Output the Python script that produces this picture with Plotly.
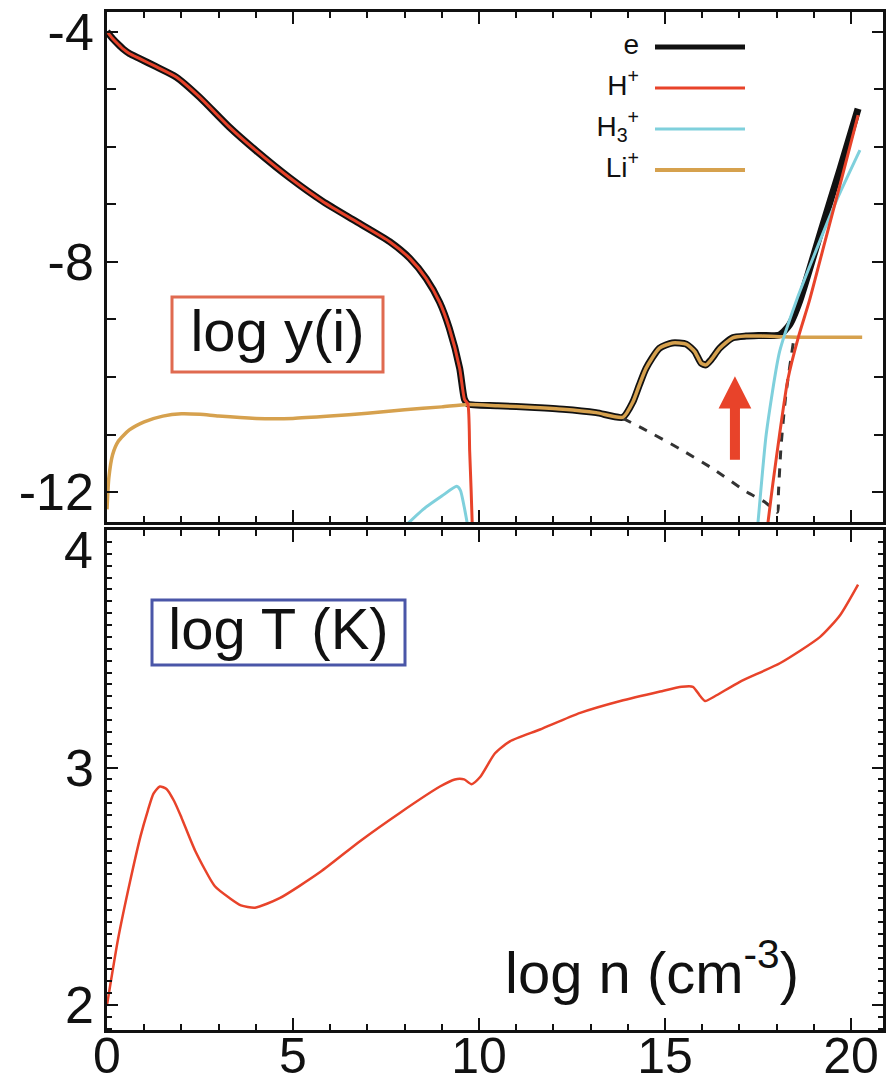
import plotly.graph_objects as go

# ---- ionisation fractions, log y(i) vs log n ----
E_X = [0, 0.15, 0.3, 0.43, 0.6, 0.88, 1.32, 1.86, 2.49, 3.29, 4.01, 4.91, 5.8, 6.7, 7.6,
       8.14, 8.58, 8.94, 9.2, 9.48, 9.61, 9.7, 10.5, 11.5, 12.26, 13.15, 13.87, 14.14,
       14.31, 14.49, 14.85, 15.2, 15.57, 15.8, 15.97, 16.1, 16.24, 16.47, 16.82, 17.18,
       17.6, 18.08, 18.35, 18.62, 19.2, 19.7, 20.19]
E_Y = [-4.0, -4.12, -4.22, -4.3, -4.38, -4.47, -4.61, -4.79, -5.14, -5.66, -6.07, -6.54,
       -6.95, -7.3, -7.65, -7.94, -8.29, -8.7, -9.15, -9.85, -10.39, -10.47, -10.5, -10.53,
       -10.56, -10.62, -10.7, -10.43, -10.14, -9.85, -9.5, -9.41, -9.43, -9.56, -9.76,
       -9.79, -9.7, -9.5, -9.32, -9.29, -9.28, -9.27, -9.09, -8.68, -7.45, -6.4, -5.34]

HP_X = [0, 0.15, 0.3, 0.43, 0.6, 0.88, 1.32, 1.86, 2.49, 3.29, 4.01, 4.91, 5.8, 6.7, 7.6,
        8.14, 8.58, 8.94, 9.2, 9.48, 9.61, 9.7, 9.75, 9.79, 9.83, None,
        17.72, 17.77, 17.9, 18.08, 18.3, 18.58, 18.88, 19.3, 19.75, 20.19]
HP_Y = [-4.0, -4.12, -4.22, -4.3, -4.38, -4.47, -4.61, -4.79, -5.14, -5.66, -6.07, -6.54,
        -6.95, -7.3, -7.65, -7.94, -8.29, -8.7, -9.15, -9.85, -10.39, -10.47, -11.3, -12.0,
        -12.8, None,
        -12.8, -12.52, -11.85, -11.0, -10.05, -9.32, -8.68, -7.65, -6.55, -5.45]

H3_X = [8.0, 8.5, 9.0, 9.4, 9.5, 9.6, 9.7, None,
        17.45, 17.5, 17.72, 18.08, 18.53, 19.0, 19.6, 20.24]
H3_Y = [-12.6, -12.3, -12.07, -11.9, -11.97, -12.25, -12.6, None,
        -12.8, -12.52, -11.0, -9.56, -8.68, -7.9, -6.95, -6.06]

LI_X = [0, 0.05, 0.15, 0.3, 0.6, 1.0, 1.5, 2.0, 2.5, 3.0, 4.0, 5.0, 6.0, 7.0, 8.0, 9.0,
        9.7, 10.5, 11.5, 12.26, 13.15, 13.87, 14.14, 14.31, 14.49, 14.85, 15.2, 15.57,
        15.8, 15.97, 16.1, 16.24, 16.47, 16.82, 17.18, 17.6, 18.08, 18.6, 19.5, 20.3]
LI_Y = [-12.3, -11.75, -11.35, -11.12, -10.92, -10.78, -10.68, -10.64, -10.65, -10.68,
        -10.72, -10.72, -10.68, -10.63, -10.57, -10.52, -10.48, -10.5, -10.53, -10.56,
        -10.62, -10.7, -10.43, -10.14, -9.85, -9.5, -9.41, -9.43, -9.56, -9.76, -9.79,
        -9.7, -9.5, -9.32, -9.29, -9.29, -9.3, -9.31, -9.31, -9.31]

# electron fraction without lithium
ENOLI_X = [13.87, 14.5, 15.4, 16.3, 17.2, 17.7, 18.02, 18.05, 18.12, 18.25, 18.45]
ENOLI_Y = [-10.72, -10.93, -11.25, -11.6, -12.0, -12.18, -12.35, -12.0, -11.2, -10.3, -9.4]

# ---- temperature, log T vs log n ----
T_X = [0, 0.3, 0.62, 0.9, 1.1, 1.25, 1.42, 1.6, 1.8, 2.0, 2.37, 2.9, 3.3, 3.6, 3.98, 4.64,
       5.73, 6.8, 7.88, 8.95, 9.35, 9.6, 9.8, 10.03, 10.43, 10.83, 11.64, 12.72, 13.8,
       14.87, 15.45, 15.75, 15.95, 16.08, 16.34, 17.0, 18.1, 19.17, 19.7, 20.19]
T_Y = [2.0, 2.28, 2.52, 2.71, 2.82, 2.89, 2.92, 2.91, 2.86, 2.79, 2.65, 2.5, 2.45, 2.42,
       2.41, 2.45, 2.56, 2.69, 2.81, 2.92, 2.95, 2.95, 2.93, 2.96, 3.06, 3.11, 3.16, 3.23,
       3.28, 3.32, 3.34, 3.34, 3.3, 3.28, 3.3, 3.36, 3.44, 3.55, 3.64, 3.77]

X_TICKS = [0, 5, 10, 15, 20]
Y1_TICKS = [-12, -8, -4]
Y1_TICKTEXT = ["-12", "-8", "-4"]
Y2_TICKS = [2, 3]
Y2_TOP_TICK = [4]

BLACK = "#111111"
RED = "#e8432a"
CYAN = "#7fd0dc"
GOLD = "#d6a14e"
FONT = "Liberation Sans, Arial, sans-serif"

# plot-area frame in pixels
W, H = 886, 1086
L, R, T, B = 107, 883, 12, 1030
TOP_BOTTOM, BOT_TOP = 522, 530


def px(x):
    return (x - L) / (R - L)


def py(y):
    return (B - y) / (B - T)


fig = go.Figure()

SM = dict(shape="spline", smoothing=0.6)
fig.add_trace(go.Scatter(x=E_X, y=E_Y, mode="lines", line=dict(color=BLACK, width=7, **SM),
                         xaxis="x", yaxis="y", showlegend=False))
fig.add_trace(go.Scatter(x=ENOLI_X, y=ENOLI_Y, mode="lines",
                         line=dict(color="#333333", width=3, dash="dash", **SM),
                         xaxis="x", yaxis="y", showlegend=False))
fig.add_trace(go.Scatter(x=LI_X, y=LI_Y, mode="lines", line=dict(color=GOLD, width=3.5, **SM),
                         xaxis="x", yaxis="y", showlegend=False))
fig.add_trace(go.Scatter(x=H3_X, y=H3_Y, mode="lines", line=dict(color=CYAN, width=3, **SM),
                         xaxis="x", yaxis="y", showlegend=False))
fig.add_trace(go.Scatter(x=HP_X, y=HP_Y, mode="lines", line=dict(color=RED, width=3, **SM),
                         xaxis="x", yaxis="y", showlegend=False))
fig.add_trace(go.Scatter(x=T_X, y=T_Y, mode="lines", line=dict(color=RED, width=2.5, **SM),
                         xaxis="x2", yaxis="y2", showlegend=False))
# empty trace so the overlay axis carrying the top temperature label is drawn
fig.add_trace(go.Scatter(x=[], y=[], mode="lines", xaxis="x2", yaxis="y4",
                         showlegend=False, hoverinfo="skip"))

# labels written in pixel coordinates of an overlay frame spanning the plot area
LABEL_FONT = dict(family=FONT, size=58, color="#111")
LEG_FONT = dict(family=FONT, size=28, color="#111")
TICK_FONT = dict(family=FONT, size=52, color="#111")
XTICK_FONT = dict(family=FONT, size=50, color="#111")


def label(x, y, text, font, pos="middle center"):
    fig.add_trace(go.Scatter(x=[x], y=[y], mode="text", text=[text], textposition=pos,
                             textfont=font, xaxis="x3", yaxis="y3", showlegend=False,
                             hoverinfo="skip", cliponaxis=False))


label(277.5, 336, "log y(i)", LABEL_FONT)
label(278.5, 634, "log T (K)", LABEL_FONT)
label(652, 978, "log n (cm<sup>-3</sup>)", LABEL_FONT)

LEG = [("e", BLACK, 5, 47), ("H<sup>+</sup>", RED, 3, 88),
       ("H<sub>3</sub><sup>+</sup>", CYAN, 3, 129), ("Li<sup>+</sup>", GOLD, 4, 170)]
shapes = []
for text, col, wid, yy in LEG:
    shapes.append(dict(type="line", xref="paper", yref="paper", x0=px(655), x1=px(745),
                       y0=py(yy), y1=py(yy), line=dict(color=col, width=wid)))
    label(639, yy, text, LEG_FONT, "middle left")

# frames around the panel labels
shapes += [
    dict(type="rect", xref="paper", yref="paper", x0=px(172), x1=px(383), y0=py(372), y1=py(297),
         line=dict(color="#e06a50", width=3)),
    dict(type="rect", xref="paper", yref="paper", x0=px(152), x1=px(405), y0=py(665), y1=py(600),
         line=dict(color="#4a56a8", width=3)),
]

# red arrow marking the lithium-dominated rise
AX, A_TIP, A_BASE, A_TAIL = 16.88, -9.99, -10.55, -11.44
HW, SW = 0.44, 0.135
shapes.append(dict(type="path", xref="x", yref="y", fillcolor=RED, line=dict(width=0),
                   path=(f"M {AX} {A_TIP} L {AX + HW} {A_BASE} L {AX + SW} {A_BASE} "
                         f"L {AX + SW} {A_TAIL} L {AX - SW} {A_TAIL} L {AX - SW} {A_BASE} "
                         f"L {AX - HW} {A_BASE} Z")))

axis_common = dict(showline=True, linewidth=2.5, linecolor=BLACK, mirror="ticks",
                   ticks="inside", tickcolor=BLACK, tickwidth=1.5, showgrid=False,
                   zeroline=False, automargin=False)

fig.update_layout(
    template="none",
    width=W, height=H,
    margin=dict(l=L, r=W - R, t=T, b=H - B, pad=0, autoexpand=False),
    paper_bgcolor="white", plot_bgcolor="rgba(0,0,0,0)",
    showlegend=False,
    shapes=shapes,
    xaxis=dict(domain=[0, 1], anchor="y", range=[0, 20.86], tickvals=X_TICKS,
               showticklabels=False, ticklen=12, tickfont=XTICK_FONT,
               minor=dict(dtick=1, tick0=0, ticklen=6, ticks="inside", tickcolor=BLACK),
               **axis_common),
    yaxis=dict(domain=[py(TOP_BOTTOM), 1], anchor="x", range=[-12.52, -3.66],
               tickvals=Y1_TICKS, ticktext=Y1_TICKTEXT, ticklen=11, tickfont=TICK_FONT,
               minor=dict(dtick=1, tick0=0, ticklen=9, ticks="inside", tickcolor=BLACK),
               **axis_common),
    xaxis2=dict(domain=[0, 1], anchor="y2", range=[0, 20.86], tickvals=X_TICKS,
                ticklen=12, ticklabelstandoff=-20, tickfont=XTICK_FONT,
                minor=dict(dtick=1, tick0=0, ticklen=6, ticks="inside", tickcolor=BLACK),
                **axis_common),
    yaxis2=dict(domain=[0, py(BOT_TOP)], anchor="x2", range=[1.895, 4.0],
                tickvals=Y2_TICKS, ticklen=11, tickfont=TICK_FONT,
                minor=dict(dtick=0.05, tick0=0, ticklen=5, ticks="inside", tickcolor=BLACK),
                **axis_common),
    # the top label of the temperature axis is lowered to stay inside the frame
    yaxis4=dict(overlaying="y2", anchor="x2", side="left", range=[1.895, 4.0],
                tickvals=Y2_TOP_TICK, ticks="", showline=False, showgrid=False,
                zeroline=False, tickfont=TICK_FONT, ticklabelshift=20,
                ticklabelstandoff=13, automargin=False),
    xaxis3=dict(domain=[0, 1], anchor="y3", range=[L, R], visible=False, fixedrange=True,
                automargin=False),
    yaxis3=dict(domain=[0, 1], anchor="x3", range=[B, T], visible=False, fixedrange=True,
                automargin=False),
)

fig.write_html("out.html")
